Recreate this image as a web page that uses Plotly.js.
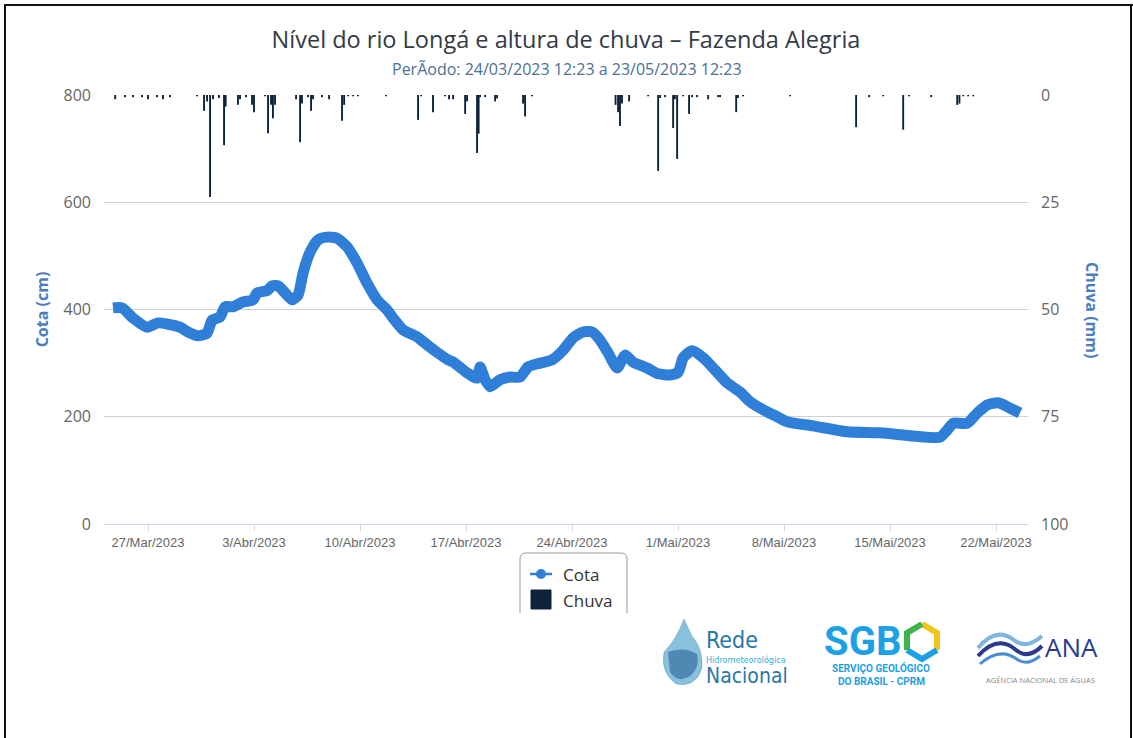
<!DOCTYPE html>
<html>
<head>
<meta charset="utf-8">
<script src="https://cdn.plot.ly/plotly-3.0.1.min.js"></script>
<style>
  html, body { margin: 0; padding: 0; background: #ffffff; }
  #chart { width: 1133px; height: 738px; }
</style>
</head>
<body>
<div id="chart"></div>
<script>
// ---------------- DATA ----------------
const cotaDates = [
  "2023-03-24 16:30","2023-03-25 06:45","2023-03-26 00:15","2023-03-26 22:20","2023-03-27 16:00",
  "2023-03-28 06:00","2023-03-29 02:40","2023-03-29 15:20","2023-03-30 07:15","2023-03-30 21:35",
  "2023-03-31 05:30","2023-03-31 18:10","2023-04-01 02:10","2023-04-01 14:40","2023-04-02 06:30",
  "2023-04-02 22:30","2023-04-03 04:50","2023-04-03 20:40","2023-04-04 04:35","2023-04-04 14:10",
  "2023-04-05 01:10","2023-04-05 12:15","2023-04-05 21:50","2023-04-06 05:45","2023-04-06 16:50",
  "2023-04-07 05:30","2023-04-07 19:40","2023-04-08 11:35","2023-04-09 03:25","2023-04-09 19:15",
  "2023-04-10 11:15","2023-04-11 03:05","2023-04-11 19:00","2023-04-12 04:20","2023-04-12 20:10",
  "2023-04-13 18:30","2023-04-14 10:20","2023-04-15 02:10","2023-04-15 19:40","2023-04-16 03:35",
  "2023-04-17 01:40","2023-04-17 17:30","2023-04-17 22:20","2023-04-18 06:15","2023-04-18 14:10",
  "2023-04-19 06:00","2023-04-19 21:50","2023-04-20 13:40","2023-04-21 02:25","2023-04-21 21:25",
  "2023-04-22 16:20","2023-04-23 09:50","2023-04-24 01:40","2023-04-24 17:30","2023-04-25 07:55",
  "2023-04-25 20:25","2023-04-26 09:10","2023-04-26 23:30","2023-04-27 12:15","2023-04-28 00:45",
  "2023-04-28 23:00","2023-04-29 16:30","2023-04-30 11:30","2023-05-01 00:15","2023-05-01 08:10",
  "2023-05-01 22:20","2023-05-02 15:50","2023-05-03 10:50","2023-05-04 05:50","2023-05-05 02:25",
  "2023-05-05 18:15","2023-05-06 14:55","2023-05-07 13:10","2023-05-08 06:30","2023-05-09 22:05",
  "2023-05-12 04:05","2023-05-14 08:25","2023-05-16 12:40","2023-05-18 07:25","2023-05-18 18:30",
  "2023-05-19 04:05","2023-05-20 02:25","2023-05-20 18:15","2023-05-21 10:05","2023-05-22 03:25",
  "2023-05-22 22:35","2023-05-23 14:00"
];
const cotaValues = [
  403,403,384,367,375,
  373,367,358,351,356,
  380,386,405,405,414,
  418,431,435,444,444,
  431,418,427,468,507,
  530,535,533,517,487,
  449,418,399,384,362,
  349,334,320,306,302,
  282,272,293,269,256,
  269,274,274,293,300,
  306,324,347,358,358,
  343,319,291,315,302,
  291,280,278,283,310,
  323,310,287,263,246,
  228,213,200,190,183,
  172,170,164,162,175,
  188,188,207,222,226,
  216,207
];

const chuvaDates = [
  "2023-03-24 20:00","2023-03-25 11:30","2023-03-26 00:15","2023-03-26 14:30","2023-03-27 00:00",
  "2023-03-27 14:10","2023-03-27 23:45","2023-03-28 10:50","2023-03-30 05:45","2023-03-30 16:50",
  "2023-03-30 21:35","2023-03-31 02:20","2023-03-31 07:00","2023-03-31 16:30","2023-04-01 00:30",
  "2023-04-01 03:00","2023-04-01 22:35","2023-04-02 01:50","2023-04-02 11:20","2023-04-02 20:50",
  "2023-04-03 00:00","2023-04-03 17:30","2023-04-03 22:15","2023-04-04 03:00","2023-04-04 06:00",
  "2023-04-04 09:20","2023-04-05 18:40","2023-04-06 01:00","2023-04-06 04:00","2023-04-06 13:40",
  "2023-04-06 18:25","2023-04-06 21:35","2023-04-07 11:45","2023-04-07 23:00","2023-04-08 19:30",
  "2023-04-08 22:50","2023-04-09 05:00","2023-04-09 13:00","2023-04-09 20:50","2023-04-11 17:15",
  "2023-04-13 20:00","2023-04-14 00:45","2023-04-14 19:40","2023-04-15 14:50","2023-04-15 21:10",
  "2023-04-16 03:35","2023-04-16 22:35","2023-04-17 01:40","2023-04-17 17:30","2023-04-17 20:00",
  "2023-04-17 22:20","2023-04-18 06:15","2023-04-18 22:05","2023-04-19 01:15","2023-04-20 18:25",
  "2023-04-20 21:35","2023-04-21 08:40","2023-04-26 21:00","2023-04-27 01:00","2023-04-27 04:00",
  "2023-04-27 07:10","2023-04-27 18:30","2023-04-29 00:40","2023-04-29 16:30","2023-04-29 19:40",
  "2023-04-30 03:35","2023-04-30 16:15","2023-04-30 19:00","2023-04-30 22:35","2023-05-01 08:10",
  "2023-05-01 17:30","2023-05-01 22:20","2023-05-02 06:15","2023-05-02 23:45","2023-05-03 15:35",
  "2023-05-03 18:40","2023-05-04 20:10","2023-05-04 23:00","2023-05-05 07:10","2023-05-08 09:40",
  "2023-05-12 18:15","2023-05-13 15:00","2023-05-14 13:10","2023-05-15 20:50","2023-05-16 06:20",
  "2023-05-17 17:15","2023-05-19 10:30","2023-05-19 14:00","2023-05-19 20:00","2023-05-20 03:50",
  "2023-05-20 11:45"
];
const chuvaValues = [
  1,0.5,0.5,0.5,1,
  0.5,1,0.5,0.3,3.7,
  1.5,23.8,1,0.7,11.7,
  2.7,2.3,1,0.5,2.3,
  4,0.3,8.9,2.3,5.4,
  2.3,1,11,2,0.5,
  3.7,1,0.5,1,6,
  2.3,0.3,0.3,0.3,0.3,
  5.8,0.3,4,0.3,1,
  1,4.4,1.5,13.5,9,
  0.5,0.5,1.5,0.8,2,
  5,0.3,2.3,4,7.2,
  2,1.5,0.3,17.7,0.7,
  0.5,7.7,1,14.9,0.3,
  4.4,0.5,0.5,1,0.5,
  0.5,4,0.7,0.3,0.3,
  7.5,0.5,0.3,8.1,0.3,
  0.5,2.3,2,0.3,0.3,
  0.3
];

const xTickVals = ["2023-03-27","2023-04-03","2023-04-10","2023-04-17","2023-04-24","2023-05-01","2023-05-08","2023-05-15","2023-05-22"];
const xTickLabels = ["27/Mar/2023","3/Abr/2023","10/Abr/2023","17/Abr/2023","24/Abr/2023","1/Mai/2023","8/Mai/2023","15/Mai/2023","22/Mai/2023"];
const cotaTicks = [0,200,400,600,800];
const chuvaTicks = [0,25,50,75,100];

const titleText = "Nível do rio Longá e altura de chuva – Fazenda Alegria";
const subtitleText = "PerÃodo: 24/03/2023 12:23 a 23/05/2023 12:23";

// ---------------- LAYOUT HELPERS ----------------
const L = 104, T = 95, W = 924, H = 429;
const X = px => (px - L) / W;
const Y = py => (T + H - py) / H;
const pt = (a, b) => X(a) + "," + Y(b);

const cotaColor = "#2f7ed8";
const chuvaColor = "#0d233a";
const sans = "Open Sans, Noto Sans, sans-serif";
const narrow = "DejaVu Sans Condensed, Liberation Sans Narrow, Roboto, sans-serif";

const traces = [
  {
    type: "scatter", mode: "lines", name: "Cota",
    x: cotaDates, y: cotaValues, yaxis: "y",
    line: { color: cotaColor, width: 11, shape: "spline", smoothing: 0.6 },
    showlegend: false, hoverinfo: "skip"
  },
  {
    type: "bar", name: "Chuva",
    x: chuvaDates, y: chuvaValues, yaxis: "y2",
    width: 3 * 3600 * 1000,
    marker: { color: chuvaColor, line: { width: 0 } },
    showlegend: false, hoverinfo: "skip"
  }
];

function ann(px, py, text, size, color, opts) {
  return Object.assign({
    xref: "paper", yref: "paper", x: X(px), y: Y(py), text: text,
    showarrow: false, xanchor: "left", yanchor: "middle",
    font: { family: sans, size: size, color: color }
  }, opts || {});
}

const r = 6;
const boxL = 520, boxR = 627, boxT = 553, boxB = 613;

const shapes = [
  // outer frame
  { type: "line", xref: "paper", yref: "paper", x0: X(5), x1: X(5), y0: Y(4), y1: Y(745), line: { color: "#111", width: 2 } },
  { type: "line", xref: "paper", yref: "paper", x0: X(4), x1: X(1133), y0: Y(5), y1: Y(5), line: { color: "#111", width: 2 } },
  { type: "line", xref: "paper", yref: "paper", x0: X(1131), x1: X(1131), y0: Y(4), y1: Y(745), line: { color: "#111", width: 2 } },
  // legend box (open at the bottom, cut off)
  { type: "path", xref: "paper", yref: "paper",
    path: "M" + pt(boxL, boxB) + " L" + pt(boxL, boxT + r) + " Q" + pt(boxL, boxT) + " " + pt(boxL + r, boxT) +
          " L" + pt(boxR - r, boxT) + " Q" + pt(boxR, boxT) + " " + pt(boxR, boxT + r) + " L" + pt(boxR, boxB),
    line: { color: "#999999", width: 1 } },
  // legend symbols
  { type: "line", xref: "paper", yref: "paper", x0: X(530), x1: X(552), y0: Y(574), y1: Y(574), line: { color: cotaColor, width: 2.5 } },
  { type: "circle", xref: "paper", yref: "paper", x0: X(536), x1: X(546), y0: Y(569), y1: Y(579), fillcolor: cotaColor, line: { width: 0 } },
  { type: "rect", xref: "paper", yref: "paper", x0: X(531), x1: X(551), y0: Y(590), y1: Y(609), fillcolor: chuvaColor, line: { color: chuvaColor, width: 1 } },
  // Rede logo drop
  { type: "path", xref: "paper", yref: "paper",
    path: "M" + pt(684, 619) + " Q" + pt(676, 640) + " " + pt(664, 652) + " Q" + pt(660, 672) + " " + pt(676, 684) +
          " Q" + pt(696, 688) + " " + pt(702, 668) + " Q" + pt(703, 648) + " " + pt(692, 636) + " Z",
    fillcolor: "rgba(40,140,190,0.55)", line: { color: "rgba(40,140,190,0.3)", width: 1 } },
  { type: "path", xref: "paper", yref: "paper",
    path: "M" + pt(668, 652) + " Q" + pt(684, 646) + " " + pt(697, 654) + " Q" + pt(700, 668) + " " + pt(690, 676) +
          " Q" + pt(678, 684) + " " + pt(670, 672) + " Z",
    fillcolor: "rgba(20,80,140,0.5)", line: { width: 0 } },
  // SGB hexagon mark
  { type: "path", xref: "paper", yref: "paper",
    path: "M" + pt(922, 624) + " L" + pt(937, 633) + " L" + pt(937, 650),
    line: { color: "#f2c318", width: 6 } },
  { type: "path", xref: "paper", yref: "paper",
    path: "M" + pt(937, 650) + " L" + pt(922, 659) + " L" + pt(907, 650),
    line: { color: "#1ea0e6", width: 6 } },
  { type: "path", xref: "paper", yref: "paper",
    path: "M" + pt(907, 650) + " L" + pt(907, 633) + " L" + pt(922, 624),
    line: { color: "#3bb54a", width: 6 } },
  // ANA waves
  { type: "path", xref: "paper", yref: "paper",
    path: "M" + pt(978, 648) + " Q" + pt(996, 626) + " " + pt(1014, 640) + " Q" + pt(1026, 650) + " " + pt(1042, 636),
    line: { color: "#7fb6e0", width: 4 } },
  { type: "path", xref: "paper", yref: "paper",
    path: "M" + pt(978, 656) + " Q" + pt(998, 634) + " " + pt(1016, 650) + " Q" + pt(1028, 660) + " " + pt(1042, 646),
    line: { color: "#2b3a8c", width: 4 } },
  { type: "path", xref: "paper", yref: "paper",
    path: "M" + pt(980, 664) + " Q" + pt(1000, 646) + " " + pt(1018, 660) + " Q" + pt(1028, 666) + " " + pt(1040, 656),
    line: { color: "#4a8fd0", width: 3 } }
];

const annotations = [
  ann(567, 69, subtitleText, 16, "#4d6f99", { xanchor: "center" }),
  ann(1092, 310, "Chuva (mm)", 16, "#4a7ebf", { xanchor: "center", textangle: 90, font: { family: sans, size: 16, color: "#4a7ebf", weight: "bold" } }),
  ann(561, 574, "Cota", 17, "#333333"),
  ann(561, 600, "Chuva", 17, "#333333"),
  // logos (text parts)
  ann(704, 640, "Rede", 23, "#2a78a6", { font: { family: narrow, size: 23, color: "#2a78a6" } }),
  ann(704, 660, "Hidrometeorológica", 9, "#2ab4dc", { font: { family: narrow, size: 9, color: "#2ab4dc" } }),
  ann(704, 676, "Nacional", 21, "#2a78a6", { font: { family: narrow, size: 21, color: "#2a78a6" } }),
  ann(822, 641, "SGB", 40, "#1ea0e6", { font: { family: "Roboto, sans-serif", size: 40, color: "#1ea0e6", weight: "bold" } }),
  ann(881, 668, "SERVIÇO GEOLÓGICO", 10, "#1ea0e6", { xanchor: "center", font: { family: "Roboto, sans-serif", size: 10, color: "#1ea0e6", weight: "bold" } }),
  ann(881, 681, "DO BRASIL - CPRM", 10, "#1ea0e6", { xanchor: "center", font: { family: "Roboto, sans-serif", size: 10, color: "#1ea0e6", weight: "bold" } }),
  ann(1043, 647, "ANA", 26, "#2b3a8c", { font: { family: sans, size: 26, color: "#2b3a8c" } }),
  ann(1040, 680, "AGÊNCIA NACIONAL DE ÁGUAS", 7.5, "#888888", { xanchor: "center" })
];

const layout = {
  width: 1133, height: 738,
  margin: { l: L, r: 1133 - L - W, t: T, b: 738 - T - H, pad: 0 },
  paper_bgcolor: "#ffffff", plot_bgcolor: "#ffffff",
  showlegend: false,
  hovermode: false,
  title: {
    text: titleText,
    font: { family: sans, size: 23.5, color: "#333a44" },
    x: 0.5, xref: "paper", xanchor: "center",
    y: 1 - 40 / 738, yref: "container", yanchor: "middle"
  },
  xaxis: {
    type: "date",
    range: ["2023-03-24 02:15", "2023-05-24 02:40"],
    tickmode: "array", tickvals: xTickVals, ticktext: xTickLabels,
    ticks: "outside", ticklen: 6, tickcolor: "#ccd6eb", tickwidth: 1,
    showline: true, linecolor: "#ccd6eb", linewidth: 1,
    showgrid: false, zeroline: false,
    tickfont: { family: "Liberation Sans, Arial, sans-serif", size: 13, color: "#666666" }
  },
  yaxis: {
    range: [0, 800],
    tickmode: "array", tickvals: cotaTicks,
    showgrid: true, gridcolor: "#d0d0d0", gridwidth: 1,
    zeroline: false, showline: false, ticks: "",
    ticklabelstandoff: 12,
    tickfont: { family: sans, size: 16, color: "#666666" },
    title: { text: "Cota (cm)", standoff: 10, font: { family: sans, size: 16, color: "#4a7ebf", weight: "bold" } }
  },
  yaxis2: {
    overlaying: "y", side: "right",
    range: [100, 0],
    tickmode: "array", tickvals: chuvaTicks,
    showgrid: false, zeroline: false, showline: false, ticks: "",
    ticklabelstandoff: 12,
    tickfont: { family: sans, size: 16, color: "#666666" }
  },
  shapes: shapes,
  annotations: annotations
};

Plotly.newPlot("chart", traces, layout, { staticPlot: true, displayModeBar: false });
</script>
</body>
</html>
